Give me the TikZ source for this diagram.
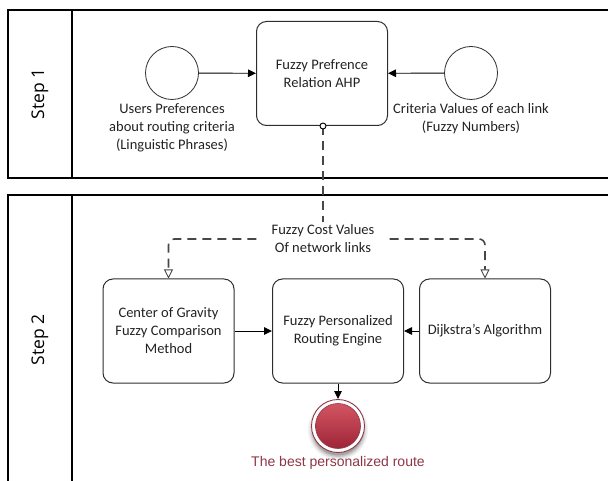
\documentclass[tikz,border=0pt]{standalone}
\usepackage{fontspec}
\setmainfont{Carlito}
\newfontfamily\stepfont{Open Sans}
\newfontfamily\arialfont{Liberation Sans}
\usetikzlibrary{arrows.meta,positioning,calc}
\definecolor{boxline}{HTML}{2E2E2E}
\definecolor{dashgray}{HTML}{474747}
\definecolor{endred}{HTML}{8E3646}
\definecolor{redtop}{HTML}{D35563}
\definecolor{redbot}{HTML}{9E2536}
\definecolor{textgray}{HTML}{222222}
\tikzset{
  poolline/.style={draw=black,line width=1.6pt},
  taskbox/.style={draw=boxline,line width=1pt,rounded corners=10pt,minimum width=131pt,minimum height=104pt,align=center,inner sep=2pt,text=textgray,font=\fontsize{14.5}{18}\selectfont},
  evcircle/.style={draw=boxline,line width=0.8pt,circle,minimum size=53pt,inner sep=0pt},
  lbl/.style={align=center,text=textgray,font=\fontsize{14.5}{18}\selectfont,inner sep=0pt},
  steplbl/.style={rotate=90,font=\stepfont\fontsize{17.5}{20}\selectfont,inner sep=0pt},
  flow/.style={draw=black,line width=0.9pt,-{Triangle[length=8pt,width=7.5pt]}},
  assoc/.style={draw=dashgray,line width=1.6pt,dash pattern=on 9pt off 6pt,rounded corners=6pt},
  openhead/.style={-{Triangle[open,length=9pt,width=9pt,fill=white,line width=0.9pt]}}
}
\begin{document}
\begin{tikzpicture}[x=1pt,y=-1pt]
\useasboundingbox (0,0) rectangle (608,481);
\begin{scope}
\clip (0,0) rectangle (608,481);
% pools
\draw[poolline] (8,10) rectangle (640,178);
\draw[poolline] (72,10) -- (72,178);
\draw[poolline] (8,195) rectangle (640,520);
\draw[poolline] (72,195) -- (72,520);
\end{scope}
\node[steplbl] (s1) at (40,94) {Step 1};
\node[steplbl] (s2) at (40,340) {Step 2};
% step 1
\node[evcircle] (c1) at (172,73) {};
\node[evcircle] (c2) at (471,73) {};
\node[taskbox] (ahp) at (322,73.5) {Fuzzy Prefrence\\Relation AHP};
\node[lbl,anchor=north] (t1) at (172,103) {Users Preferences\\about routing criteria\\(Linguistic Phrases)};
\node[lbl,anchor=north] (t2) at (471,103) {Criteria Values of each link\\(Fuzzy Numbers)};
\draw[flow] (c1) -- (ahp);
\draw[flow] (c2) -- (ahp);
% step 2
\node[taskbox] (cog) at (168.5,331) {Center of Gravity\\Fuzzy Comparison\\Method};
\node[taskbox] (fpr) at (338,331) {Fuzzy Personalized\\Routing Engine};
\node[taskbox] (dij) at (485,331) {Dijkstra’s Algorithm};
\draw[flow] (cog) -- (fpr);
\draw[flow] (dij) -- (fpr);
% fuzzy cost
\node[lbl,inner xsep=15pt,inner ysep=3pt] (fc) at (323,239) {Fuzzy Cost Values\\Of network links};
\draw[assoc] (ahp.south -| fc.north) -- (fc.north);
\draw[draw=black,fill=white,line width=0.9pt] (ahp.south -| fc.north) circle (3pt);
\draw[assoc,openhead] (fc.west) -| (cog.north);
\draw[assoc,openhead] (fc.east) -| (dij.north);
% end event
\foreach \r/\o in {30/0.05,28.5/0.08,27/0.12,25.5/0.16}{
  \fill[black,opacity=\o] (338,430) circle (\r pt);
}
\node[circle,draw=endred,line width=0.9pt,fill=white,minimum size=53pt,inner sep=0pt] (end) at (338,426) {};
\shade[top color=redtop,bottom color=redbot,draw=endred,line width=0.6pt] (end.center) circle (22.5pt);
\draw[flow] (fpr.south) -- (end.north);
\node[font=\arialfont\fontsize{14}{16}\selectfont,text=endred,inner sep=0pt] (endlbl) at (338,463) {The best personalized route};
\end{tikzpicture}
\end{document}
